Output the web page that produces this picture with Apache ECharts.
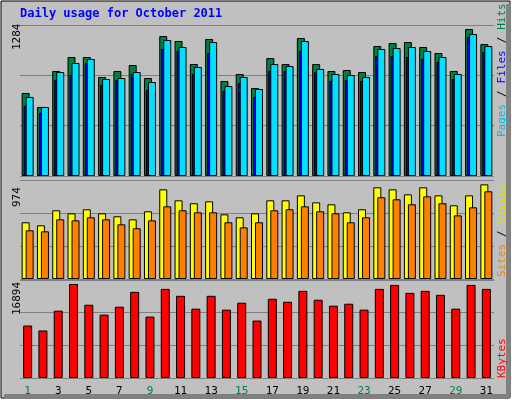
<!DOCTYPE html>
<html><head><meta charset="utf-8">
<script src="https://cdn.jsdelivr.net/npm/echarts@6/dist/echarts.min.js"></script>
<style>html,body{margin:0;padding:0;background:#fff}#c{width:512px;height:400px}</style>
</head><body><div id="c"></div>
<script>
var days = ['1','2','3','4','5','6','7','8','9','10','11','12','13','14','15','16','17','18','19','20','21','22','23','24','25','26','27','28','29','30','31'];
var weekend = ['1','2','8','9','15','16','22','23','29','30'];
var hits  = [706,587,893,1012,1012,842,893,944,833,1190,1148,952,1165,808,867,748,1003,952,1173,952,893,901,884,1105,1131,1139,1097,1046,893,1250,1122];
var files = [672,587,884,961,995,825,833,884,799,1156,1097,927,1139,765,842,740,952,935,1148,910,867,859,842,1080,1088,1097,1063,1012,867,1207,1105];
var pages = [595,536,816,859,961,774,816,867,731,1080,1063,867,1046,723,791,672,893,893,1063,884,808,816,808,1020,1020,1012,995,969,825,1182,1054];
var sites = [558,528,676,646,686,646,617,587,666,882,774,745,764,636,607,646,774,774,823,754,735,656,686,902,882,833,902,823,725,823,931];
var visits= [479,469,587,577,607,587,538,499,577,715,676,656,656,558,508,558,676,686,715,666,646,558,607,804,784,735,813,745,626,705,863];
var kbytes= [9047,8194,11608,16217,12632,10925,12290,14851,10583,15363,14168,11949,14168,11779,12973,9901,13656,13144,15022,13485,12461,12803,11779,15363,16046,14680,15022,14339,11949,16046,15363];
var maxTop = 1284, maxMid = 974, maxBot = 16894;

var F = 'DejaVu Sans Mono';
var grids = [
  {left:20,right:18,top:25,height:151},
  {left:20,right:18,top:180,height:99},
  {left:20,right:18,top:280,height:98}
];
grids.forEach(function(g){g.show=true;g.borderColor='#ffffff';g.borderWidth=2;g.backgroundColor='#c0c0c0';});
function xa(i,lab){return {type:'category',gridIndex:i,data:days,axisLine:{show:false},axisTick:{show:false},
  axisLabel:{show:lab,fontFamily:F,fontSize:11,margin:8,color:function(v){return weekend.indexOf(v)>=0?'#008040':'#000';}}};}
function ya(i,m){return {type:'value',gridIndex:i,min:0,max:m,interval:m/3,axisLabel:{show:false},axisLine:{show:false},axisTick:{show:false},
  splitLine:{lineStyle:{color:'#808080',width:1}}};}
function bar(name,data,i,color,w,gap){return {name:name,type:'bar',xAxisIndex:i,yAxisIndex:i,data:data,barWidth:w,barGap:gap,
  itemStyle:{color:color,borderColor:'#000',borderWidth:1},animation:false};}
function vtext(x,y,parts){ // rotated text segments, bottom-to-top
  var res=[];var off=0;
  parts.forEach(function(p){res.push({type:'text',x:x,y:y-off,rotation:Math.PI/2,style:{text:p[0],fill:p[1],font:'11px '+F,textVerticalAlign:'top'}});off+=p[0].length*6.7;});
  return res;}
var g = [
  {type:'rect',shape:{x:1,y:1,width:509,height:397},style:{fill:'#c0c0c0',stroke:'#000',lineWidth:1}},
  {type:'polyline',shape:{points:[[508,4],[508,396],[4,396]]},style:{stroke:'#808080',lineWidth:4,fill:null}},
  {type:'text',x:20,y:8,style:{text:'Daily usage for October 2011',fill:'#0000ff',font:'bold 12px '+F}},
  {type:'text',x:12,y:50,rotation:Math.PI/2,style:{text:'1284',fill:'#000',font:'11px '+F,textVerticalAlign:'top'}},
  {type:'text',x:12,y:207,rotation:Math.PI/2,style:{text:'974',fill:'#000',font:'11px '+F,textVerticalAlign:'top'}},
  {type:'text',x:12,y:315,rotation:Math.PI/2,style:{text:'16894',fill:'#000',font:'11px '+F,textVerticalAlign:'top'}}
];
g = g.concat(vtext(497,137,[['Pages','#00c0e0'],[' / ','#000'],['Files','#0000ff'],[' / ','#000'],['Hits','#008040']]));
g = g.concat(vtext(497,277,[['Sites','#ff8000'],[' / ','#000'],['Visits','#e0e000']]));
g = g.concat(vtext(497,378,[['KBytes','#ff0000']]));

var chart = echarts.init(document.getElementById('c'));
chart.setOption({
  animation:false,
  grid:grids,
  xAxis:[xa(0,false),xa(1,false),xa(2,true)],
  yAxis:[ya(0,maxTop),ya(1,maxMid),ya(2,maxBot)],
  series:[
    bar('Hits',hits,0,'#008040',8,'-75%'),
    bar('Pages',pages,0,'#0000ff',8,'-75%'),
    bar('Files',files,0,'#00e0ff',8,'-75%'),
    bar('Visits',sites,1,'#ffff00',8,'-50%'),
    bar('Sites',visits,1,'#ff8000',8,'-50%'),
    bar('KBytes',kbytes,2,'#ff0000',9,'0%')
  ],
  graphic:g
});
</script></body></html>
